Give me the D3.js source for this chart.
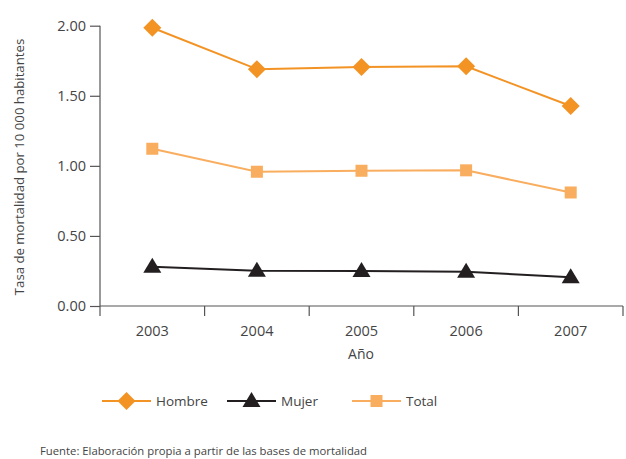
<!DOCTYPE html>
<html><head><meta charset="utf-8">
<script src="https://cdn.jsdelivr.net/npm/d3@7"></script>
<style>body{margin:0;background:#fff;} text{font-family:"Open Sans","Noto Sans",sans-serif;}</style>
</head><body><svg id="c" width="626" height="459"></svg>
<script>
const years = ["2003","2004","2005","2006","2007"];
const hombre = [1.985, 1.69, 1.705, 1.71, 1.427];
const mujer = [0.28, 0.252, 0.25, 0.245, 0.205];
const total = [1.122, 0.958, 0.965, 0.968, 0.81];
const yTicks = [0, 0.5, 1.0, 1.5, 2.0];
const seriesNames = ["Hombre","Mujer","Total"];
const colors = {Hombre:"#F39324", Mujer:"#231F20", Total:"#F9AD5F"};

const svg = d3.select("#c");
const x = d3.scaleBand().domain(years).range([100, 623]);
const y = d3.scaleLinear().domain([0, 2]).range([306, 25.7]);
const FF = '"Open Sans","Noto Sans",sans-serif';

// y axis
const ya = svg.append("g").attr("transform","translate(100,0)")
  .call(d3.axisLeft(y).tickValues(yTicks).tickFormat(d3.format(".2f")).tickSize(10).tickPadding(4));
ya.select(".domain").attr("stroke","#555").attr("stroke-width",1.2).attr("d","M0,306V25.7");
ya.selectAll(".tick line").attr("stroke","#555").attr("stroke-width",1.2);
ya.selectAll(".tick text").attr("fill","#444").attr("font-size",14.5).style("font-family",FF);

// x axis
const xa = svg.append("g").attr("transform","translate(0,306)")
  .call(d3.axisBottom(x).tickSize(0).tickPadding(20));
xa.select(".domain").attr("stroke","#555").attr("stroke-width",1.2).attr("d","M100,0H623");
xa.selectAll(".tick text").attr("fill","#444").attr("font-size",14.5).style("font-family",FF);
const bounds = years.map(d=>x(d)).concat([x.range()[1]]);
xa.selectAll(".bnd").data(bounds).enter().append("line")
  .attr("x1",d=>d).attr("x2",d=>d).attr("y1",0).attr("y2",10)
  .attr("stroke","#555").attr("stroke-width",1.2);

svg.append("text").attr("x",361).attr("y",359).attr("text-anchor","middle")
  .attr("fill","#444").attr("font-size",14).text("Año");
svg.append("text").attr("transform","translate(24,167) rotate(-90)").attr("text-anchor","middle")
  .attr("fill","#444").attr("font-size",13.2).text("Tasa de mortalidad por 10 000 habitantes");

const cx = d => x(d) + x.bandwidth()/2;
const data = {Hombre:hombre, Mujer:mujer, Total:total};
const line = d3.line().x((d,i)=>cx(years[i])).y(d=>y(d));

function marker(g, name, px, py){
  const c = colors[name];
  if(name==="Hombre"){
    g.append("path").attr("d",`M${px},${py-9}L${px+9},${py}L${px},${py+9}L${px-9},${py}Z`).attr("fill",c);
  } else if(name==="Mujer"){
    g.append("path").attr("d",`M${px},${py-9}L${px+9},${py+6}L${px-9},${py+6}Z`).attr("fill",c);
  } else {
    g.append("rect").attr("x",px-6).attr("y",py-6).attr("width",12).attr("height",12).attr("fill",c);
  }
}

["Total","Mujer","Hombre"].forEach(name=>{
  const g = svg.append("g");
  g.append("path").datum(data[name]).attr("d",line).attr("fill","none")
    .attr("stroke",colors[name]).attr("stroke-width",2);
  data[name].forEach((v,i)=>marker(g,name,cx(years[i]),y(v)));
});

// legend
const legX = [102, 227, 352];
seriesNames.forEach((name,i)=>{
  const g = svg.append("g");
  const lx = legX[i], ly = 401;
  g.append("line").attr("x1",lx).attr("x2",lx+49).attr("y1",ly).attr("y2",ly)
    .attr("stroke",colors[name]).attr("stroke-width",2);
  marker(g,name,lx+24.5,ly);
  g.append("text").attr("x",lx+54).attr("y",ly+5).attr("fill","#444").attr("font-size",13.5).text(name);
});

svg.append("text").attr("x",40).attr("y",455).attr("fill","#444").attr("font-size",11.3)
  .text("Fuente: Elaboración propia a partir de las bases de mortalidad");
</script></body></html>
